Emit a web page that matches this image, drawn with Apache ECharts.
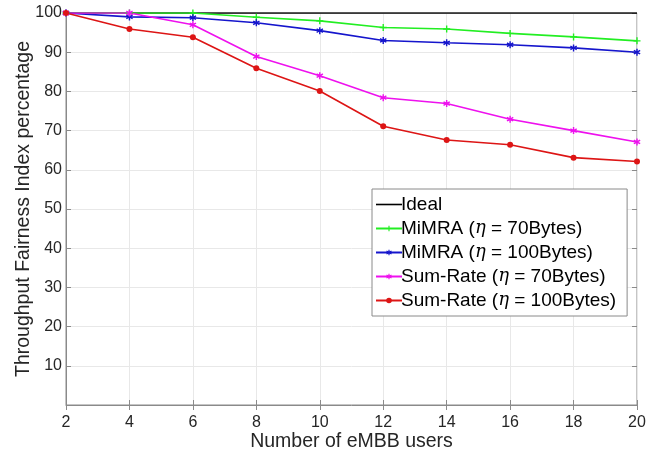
<!DOCTYPE html>
<html><head><meta charset="utf-8">
<script src="https://cdn.jsdelivr.net/npm/echarts@6/dist/echarts.min.js"></script>
<style>html,body{margin:0;padding:0;background:#fff}#c{width:656px;height:458px}</style>
</head><body><div id="c"></div>
<script>
const users = [2,4,6,8,10,12,14,16,18,20];
const ideal = [100,100,100,100,100,100,100,100,100,100];
const mimra70 = [100,100,100,98.9,98.0,96.3,95.9,94.8,93.9,92.9];
const mimra100 = [100,99.0,98.8,97.5,95.5,93.0,92.4,91.9,91.1,90.0];
const sum70 = [100,100,97.0,88.9,84.0,78.4,76.9,72.9,70.0,67.1];
const sum100 = [100,95.9,93.8,85.9,80.1,71.1,67.6,66.4,63.1,62.1];
const yTicks = [10,20,30,40,50,60,70,80,90,100];

const pair = a => users.map((u,i)=>[u,a[i]]);
const F = 'Liberation Sans, Arial, sans-serif';
const chart = echarts.init(document.getElementById('c'));
const mk = (name, data, color, symbol, size) => ({
  name, type:'line', data: pair(data), symbol, symbolSize:size, showSymbol: symbol!=='none',
  lineStyle:{color, width:1.6}, itemStyle:{color, borderWidth:0}, animation:false, z: 3
});
const PLUS = 'path://M4,0H6V4H10V6H6V10H4V6H0V4H4Z';
const STAR = 'path://M4,0H6V3.3L8.9,1.6L9.9,3.4L7,5L9.9,6.6L8.9,8.4L6,6.7V10H4V6.7L1.1,8.4L0.1,6.6L3,5L0.1,3.4L1.1,1.6L4,3.3Z';
const HLINE = 'path://M0,0H26V1.6H0Z';
chart.setOption({
  animation:false,
  grid:{left:66, right:19, top:13, bottom:53, containLabel:false, outerBoundsMode:'none',
    show:true, borderColor:'#8a8a8a', borderWidth:1},
  xAxis:[{type:'value', min:2, max:20, interval:2,
    name:'Number of eMBB users', nameLocation:'middle', nameGap:27, nameMoveOverlap:false,
    nameTextStyle:{fontFamily:F, fontSize:19.5, color:'#262626'},
    axisLine:{lineStyle:{color:'#8a8a8a'}}, axisTick:{inside:true, length:5, lineStyle:{color:'#8a8a8a'}},
    axisLabel:{fontFamily:F, fontSize:16, color:'#262626', margin:10},
    splitLine:{show:true, lineStyle:{color:'#e8e8e8'}}},
   {type:'value', position:'top', min:2, max:20, interval:2, axisLine:{show:false},
    axisTick:{inside:true, length:5, lineStyle:{color:'#8a8a8a'}}, axisLabel:{show:false}, splitLine:{show:false}}],
  yAxis:[{type:'value', min:0, max:100, interval:10,
    name:'Throughput Fairness Index percentage', nameLocation:'middle', nameGap:32, nameMoveOverlap:false,
    nameTextStyle:{fontFamily:F, fontSize:19.5, color:'#262626'},
    axisLine:{show:true, lineStyle:{color:'#8a8a8a'}}, axisTick:{show:true, inside:true, length:5, lineStyle:{color:'#8a8a8a'}},
    axisLabel:{fontFamily:F, fontSize:16, color:'#262626', margin:4,
      formatter: v => yTicks.includes(v) ? String(v) : ''},
    splitLine:{show:true, lineStyle:{color:'#e8e8e8'}}},
   {type:'value', position:'right', min:0, max:100, interval:10, axisLine:{show:false},
    axisTick:{show:true, inside:true, length:5, lineStyle:{color:'#8a8a8a'}}, axisLabel:{show:false}, splitLine:{show:false}}],
  legend:{orient:'vertical', left:372, top:189, itemGap:3, itemWidth:26, itemHeight:7,
    backgroundColor:'#fff', borderColor:'#8a8a8a', borderWidth:1, borderRadius:0, padding:[5,11,5,3],
    textStyle:{fontFamily:F, fontSize:19, color:'#000', padding:[0,0,0,-6], lineHeight:21,
      rich:{i:{fontFamily:'DejaVu Serif, serif', fontStyle:'italic', fontSize:18, color:'#000'}}},
    formatter: n => n.replace('η','{i|η}'),
    data:[{name:'Ideal', icon:HLINE},'MiMRA (η = 70Bytes)','MiMRA (η = 100Bytes)','Sum-Rate (η = 70Bytes)','Sum-Rate (η = 100Bytes)']},
  series:[
    mk('Ideal', ideal, '#000000', 'none', 0),
    mk('MiMRA (η = 70Bytes)', mimra70, '#22ee22', PLUS, 7),
    mk('MiMRA (η = 100Bytes)', mimra100, '#1515cc', STAR, 7),
    mk('Sum-Rate (η = 70Bytes)', sum70, '#ee11ee', STAR, 7),
    mk('Sum-Rate (η = 100Bytes)', sum100, '#dd1515', 'circle', 6)
  ]
});
</script></body></html>
